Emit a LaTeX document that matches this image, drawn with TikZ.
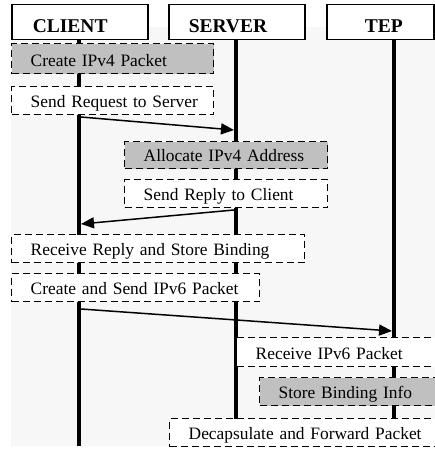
\documentclass[tikz,border=0pt]{standalone}
\usepackage{fontspec}
\setmainfont{Liberation Serif}
\usetikzlibrary{arrows.meta}
\definecolor{bggray}{HTML}{F7F7F7}
\definecolor{boxgray}{HTML}{C0C0C0}
\newcommand{\procindent}{\hspace*{19pt}}
\tikzset{
  header/.style={draw=black, fill=white, line width=1.5pt, inner ysep=0pt,
    minimum height=35pt, anchor=north west, align=left,
    text height=28pt, text depth=7pt,
    font=\fontsize{19.5pt}{22pt}\selectfont\bfseries},
  proc/.style={draw=black, fill=white, line width=1.4pt, dash pattern=on 7pt off 4pt,
    inner xsep=0pt, inner ysep=0pt, anchor=north west, align=left,
    text height=21pt, text depth=7pt,
    font=\fontsize{17.4pt}{20pt}\selectfont},
  shaded/.style={fill=boxgray},
  life/.style={line width=4.8pt, black},
  msg/.style={line width=1.5pt, -{Triangle[length=13pt,width=11pt]}}
}
\begin{document}
\begin{tikzpicture}[x=1pt,y=-1pt]
\useasboundingbox (0,0) rectangle (435,449);
\clip (0,0) rectangle (435,449);
% background
\fill[bggray] (11,27) rectangle (435,446);
% header boxes
\node[header, inner xsep=21pt, text width=94pt] (client) at (11,4) {CLIENT};
\node[header, inner xsep=20pt, text width=96pt] (server) at (168,4) {SERVER};
\node[header, inner xsep=0pt, text width=107pt] (tep) at (326,4) {\hspace*{38pt}TEP};
% lifelines
\coordinate (cEnd) at (79,446);
\coordinate (sEnd) at (236,446);
\coordinate (tEnd) at (394,446);
\draw[life] (client.south -| cEnd) -- (cEnd);
\draw[life] (server.south -| sEnd) -- (sEnd);
\draw[life] (tep.south -| tEnd) -- (tEnd);
% messages
\coordinate (m1s) at (81,117);
\coordinate (m1e) at (234,130);
\coordinate (m2s) at (234,210);
\coordinate (m2e) at (81,224);
\coordinate (m3s) at (81,309);
\coordinate (m3e) at (392,331);
\draw[msg] (m1s) -- (m1e);
\draw[msg] (m2s) -- (m2e);
\draw[msg] (m3s) -- (m3e);
% process boxes
\node[proc, shaded, text width=202pt, text height=23pt] (b1) at (11,43) {\procindent Create IPv4 Packet};
\node[proc, text width=202pt] (b2) at (11,86) {\procindent Send Request to Server};
\node[proc, shaded, text width=203pt, text height=20pt] (b3) at (124,141) {\procindent Allocate IPv4 Address};
\node[proc, text width=203pt] (b4) at (124,179) {\procindent Send Reply to Client};
\node[proc, text width=293pt] (b5) at (11,234) {\procindent Receive Reply and Store Binding};
\node[proc, text width=248pt] (b6) at (11,273) {\procindent Create and Send IPv6 Packet};
\node[proc, text width=209pt, text height=22pt] (b7) at (236,337) {\procindent Receive IPv6 Packet};
\node[proc, shaded, text width=186pt] (b8) at (259,377) {\procindent Store Binding Info};
\node[proc, text width=276pt] (b9) at (169,418) {\procindent Decapsulate and Forward Packet};
\end{tikzpicture}
\end{document}
